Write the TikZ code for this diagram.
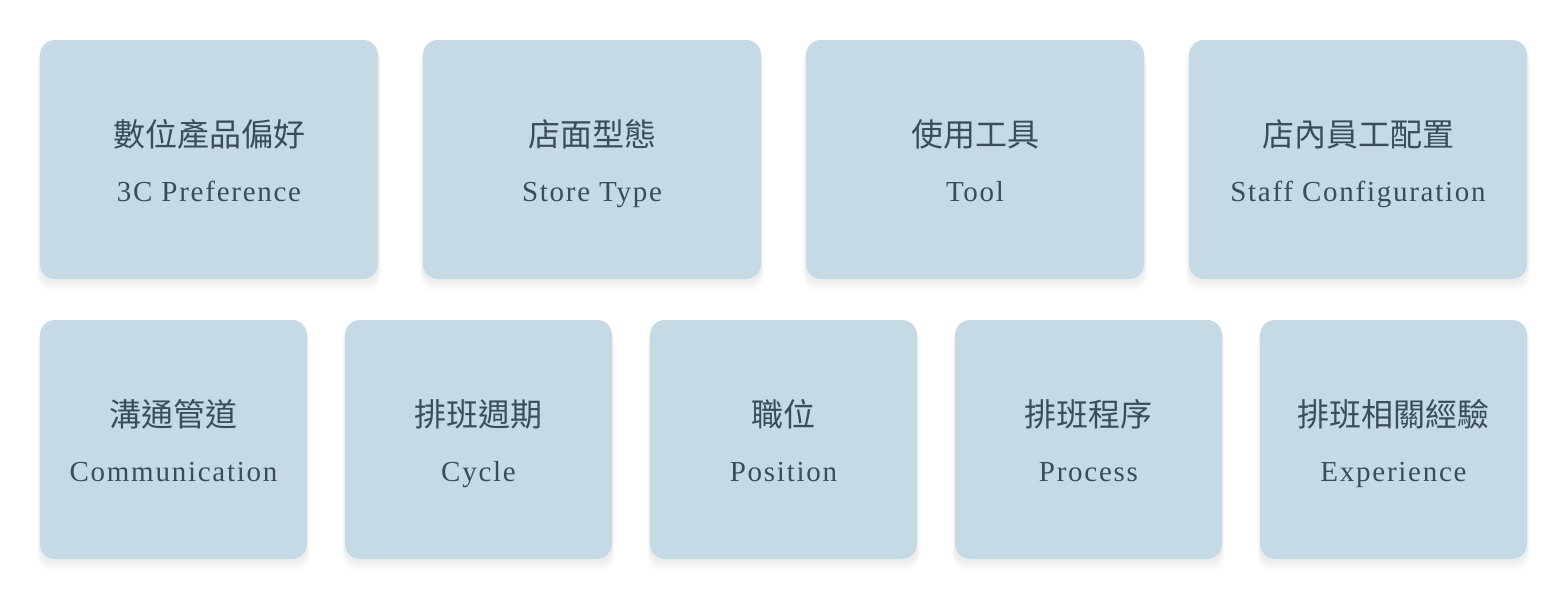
\documentclass[tikz,border=0pt]{standalone}
\usepackage{fontspec}
\setmainfont{Liberation Serif}
\newfontfamily\cjk{Noto Sans CJK TC}
\newfontfamily\en[LetterSpace=6]{Liberation Serif}
\usetikzlibrary{positioning,shadows}
\definecolor{cardblue}{RGB}{198,218,229}
\definecolor{cardtext}{RGB}{58,77,88}

\tikzset{
  card/.style={rounded corners=7.5pt, fill=cardblue, text=cardtext, align=center,
    minimum height=119.5pt, inner sep=0pt,
    font=\fontsize{16pt}{27.5pt}\selectfont,
    drop shadow={shadow xshift=0pt, shadow yshift=-5pt, shadow scale=1.02, opacity=0.012, fill=black},
    drop shadow={shadow xshift=0pt, shadow yshift=-4pt, shadow scale=1.015, opacity=0.015, fill=black},
    drop shadow={shadow xshift=0pt, shadow yshift=-3pt, shadow scale=1.01, opacity=0.018, fill=black},
    drop shadow={shadow xshift=0pt, shadow yshift=-2pt, shadow scale=1.005, opacity=0.02, fill=black}},
  wide card/.style={card, minimum width=169pt},
  narrow card/.style={card, minimum width=133.5pt}
}
\newcommand{\cardtext}[2]{{\cjk\strut #1}\\{\fontsize{14.5pt}{27.5pt}\en\rule[-5.25pt]{0pt}{5.25pt}#2}}

\begin{document}
\begin{tikzpicture}[x=0.5pt,y=-0.5pt]
\useasboundingbox[fill=white] (0,0) rectangle (1568,600);

% top row
\node[wide card] (pref)  at (209,159.5)  {\cardtext{數位產品偏好}{3C Preference}};
\node[wide card] (store) at (592,159.5)  {\cardtext{店面型態}{Store Type}};
\node[wide card] (tool)  at (975,159.5)  {\cardtext{使用工具}{Tool}};
\node[wide card] (staff) at (1358,159.5) {\cardtext{店內員工配置}{Staff Configuration}};

% bottom row
\node[narrow card] (comm)     at (173.5,439.5)  {\cardtext{溝通管道}{Communication}};
\node[narrow card] (cycle)    at (478.5,439.5)  {\cardtext{排班週期}{Cycle}};
\node[narrow card] (position) at (783.5,439.5)  {\cardtext{職位}{Position}};
\node[narrow card] (process)  at (1088.5,439.5) {\cardtext{排班程序}{Process}};
\node[narrow card] (exper)    at (1393.5,439.5) {\cardtext{排班相關經驗}{Experience}};
\end{tikzpicture}
\end{document}
